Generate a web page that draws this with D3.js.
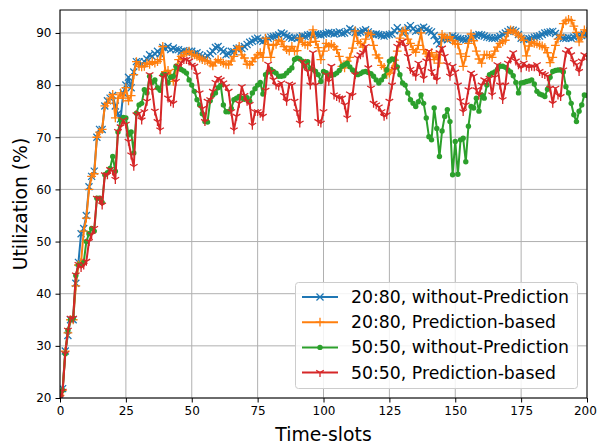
<!DOCTYPE html>
<html><head><meta charset="utf-8">
<script src="https://cdn.jsdelivr.net/npm/d3@7"></script>
<style>body{margin:0;background:#fff}svg{display:block;font-family:"DejaVu Sans",sans-serif}</style>
</head><body><svg id="c" width="597" height="447"></svg>
<script>
const xTicks=[0,25,50,75,100,125,150,175,200];
const yTicks=[20,30,40,50,60,70,80,90];
const seriesNames=["20:80, without-Prediction","20:80, Prediction-based","50:50, without-Prediction","50:50, Prediction-based"];
const blue=[20.5,21.8,29,32,35,35,42,46,51.5,52.5,55,60.5,62.5,63.5,70,71.5,71.5,76,77,77.5,78,76,74.5,73.5,78.5,80,81.5,79.5,82.5,84.5,84.5,84,84.5,85,85.8,85.5,86,86.5,86,87.2,87,87.4,86.8,87.1,86.8,86.8,86.5,86.6,86.3,86.5,86.5,86,86.2,85.8,85.5,85.2,85.6,86,86.5,87.2,87.4,86.8,86.5,85.8,86,86.5,86.4,87,87.1,87,87.4,87.8,88.2,88.4,88.8,89,88.6,88.4,88.6,89,89.2,89.3,89.4,89.6,90,89.8,89.4,89.2,89,89.1,89,89.2,89.4,89.3,89.6,89.7,89.5,89.8,89.7,89.6,89.8,89.9,90.1,90,89.8,90,90.2,89.9,90,90.3,90.8,90.5,90.1,90,90.2,90.4,90.6,90.2,89.8,89.7,89.8,89.7,89.5,89.4,89.6,89.7,89.8,90.4,91,90.5,90,90.4,91,91.4,90.8,90.3,90.5,90.9,91.1,90.7,90.4,90.2,89.5,88.5,87.9,88.8,89,88.7,89,89.4,89.2,89,88.9,88.8,88.7,88.9,89,89.3,89.5,89.7,89.6,89.4,89.2,89.1,89,89,89.1,89.3,89.7,90,90.3,90.6,90.5,90.3,89.7,89,88.8,88.7,88.9,89,89.2,89.3,89.4,89.7,90,90.1,90.2,90.3,89.9,89.4,89.2,89,89,89.1,89,89.2,89.4,89.4,89.5,89.7,89.6];
const orange=[20.5,21.5,29,32.5,35,35,41.5,45.5,46,52,54.5,60,62.5,63,70,71,71.5,76,76.5,77.5,78.2,73.7,77.5,78.5,77.5,79.5,77,78,82,84.5,83.6,83.5,83.6,84.2,84,84.5,84.2,84.5,84.9,87.4,82.6,82.8,82,80.7,83,84.9,85.5,85.8,86.3,86.5,85.9,85.8,85.5,85.2,84.9,84.7,84.6,84.2,83.7,84.4,84.9,84.5,84.2,84,83.9,84.6,85.5,86.8,87.4,85.8,85.2,84,83.9,84.5,85.2,85.8,86.2,85.3,89,87.8,85.3,87.6,87.8,88.6,88.4,87.4,86.8,86.5,87.4,86.5,86.6,89,88.2,87.8,87.6,88.2,90.6,88.4,87.2,84.9,86.5,88,87.4,87.8,87.4,86.8,85.5,83.6,83.3,84.6,85.3,87.1,90.4,88.4,88,87.3,88.8,90,89.7,87.6,85.8,85.2,83.8,83.4,82,82.3,83,84.8,86.5,89,90.3,90.5,88.8,88,86.8,86.3,87.6,90,86.8,86,85.5,86.2,84.9,85.8,84.2,89.7,89.2,89,89.3,88.5,88,87.8,86,83.6,85.5,88,89.8,88.5,86.5,85,84.2,85.8,85.8,85.7,85.3,86.5,87.3,88,88.3,88.6,90,90.6,90.4,90,89.6,89.2,88.6,85.6,87.5,88.3,88,87.9,87.6,87.5,87.2,86.2,84.3,85.3,87.6,88.8,89.6,91.8,92.3,92.6,92.4,91.3,90.1,88.3,89.2,90.6,90.3];
const green=[20.5,21.5,28.5,33,35,35.3,43.5,45.5,45.5,46,50,51.5,52.5,52,58.3,58.3,57.5,62.8,63.2,64,66.3,63.5,71,73.3,73.8,73.7,70.5,71,67,74.6,76.2,76.5,79.1,78.5,81.7,80.5,81,79.5,79,82,82,80.4,81.5,81.7,83.6,83.3,83,82.7,82.3,81,80,78.8,77.2,76.2,74.5,73,72.9,77,78.1,78.5,79.5,80,76.2,74.9,74.9,75.5,77.2,77.5,77.8,77.5,77.3,77.6,76.9,78.5,79.3,80,80.5,78.3,82,82.5,83,82.6,82.3,81.7,81.7,81.8,82.3,82.8,83.3,84.9,85.2,85,84.6,83.6,84.5,83.2,83,82.6,82,80.7,82.6,82.4,81.8,81.9,82,82.3,82.8,83.6,83.9,84.2,83.5,82.9,82.4,82,82.2,82.5,82.6,82.4,82.2,81.7,81,80.4,81,81.7,82.9,84.6,85,84.9,83.5,82,80.4,80,78.5,77.2,76.5,75.9,76.8,78.1,76.5,73.7,70.1,69.5,75.6,71.7,66.3,71.2,74,75.3,73,62.8,69.2,62.9,69.5,69.8,65.3,72.1,75.9,75.6,77.5,75,78.1,77.5,80,82,82.3,82.5,83,83.6,83.6,83.4,82.9,82.5,81.8,80.5,78.5,80.4,80.5,80.7,80.8,81,80.2,78.8,78.3,78.1,77.8,79.2,81.5,82.6,82.8,82.9,82.9,82.5,79.7,78.5,76.5,74.3,73,75,76.2,78.1,78];
const red=[20,21.3,28.5,33,35.3,35.3,43.6,45.6,45,45.5,46.2,50,51.3,52.5,58.3,58.3,57,62.8,62.8,63.8,63.5,61.9,71.1,72,73.3,72.5,69.2,66.6,64.4,74.3,74.6,73.3,74.9,76.9,82,79,75,73,71.4,81.5,82,77.5,76.8,76.5,80.7,83.6,84.3,84.9,84.9,84.6,83.8,83.6,82,78.5,75.5,73,76.9,77.2,78.8,80.5,81.3,81,80.4,79.7,78.8,74.9,71.4,74,76.5,79.7,78,76.9,76.3,72.3,74.9,74.9,74.6,74,79,84,82.5,81,80,79.8,80.4,78,76.9,80.2,80,76.9,74.9,72.7,84.5,83.8,82.6,80,86.2,80,73,72.7,74.9,82,80.7,83.6,78.1,77.8,77.5,77.5,76.2,73.7,78.3,78,82,85.2,85.8,86.2,87.4,83.3,79.4,76.5,76.2,75.8,74.9,74,74.3,76.9,80,83,87.4,88,88.4,87.4,85.5,83,82.5,81.7,84.2,83,81.3,84.6,86.5,82.6,81.8,81,86.2,87.1,85.5,83.9,81.7,83.6,82.5,80,77,74.9,76.2,79.1,82.3,81.7,79.1,78.1,80,81,80.7,81.3,78.1,81.5,83.9,80,77.2,80,84.2,85,86.2,84.6,83.9,83.3,84.2,83.6,83.4,83.6,83.5,83.9,82.6,82.2,82,81.7,79.4,76.5,79.4,78.1,77.8,82.9,86.2,86.8,85.8,84.4,83.9,82.6,84.6,85.8,85.5];

const colors=["#1f77b4","#ff7f0e","#2ca02c","#d62728"];
const markers=["x","+","dot","tri"];
const allSeries=[blue,orange,green,red];

const svg=d3.select("#c");
const L=60,R=587,T=10,B=398;
const x=d3.scaleLinear().domain([0,200]).range([L,R]);
const y=d3.scaleLinear().domain([20,94.4]).range([B,T]);

const g=svg.append("g");
g.selectAll(".gx").data(xTicks).enter().append("line")
 .attr("x1",d=>x(d)).attr("x2",d=>x(d)).attr("y1",T).attr("y2",B)
 .attr("stroke","#b0b0b0").attr("stroke-width",1);
g.selectAll(".gy").data(yTicks).enter().append("line")
 .attr("x1",L).attr("x2",R).attr("y1",d=>y(d)).attr("y2",d=>y(d))
 .attr("stroke","#b0b0b0").attr("stroke-width",1);

svg.append("clipPath").attr("id","clip").append("rect").attr("x",L).attr("y",T).attr("width",R-L).attr("height",B-T);

function markerPath(type,s){
  if(type==="x"){const a=s*0.8;return `M${-a},${-a}L${a},${a}M${-a},${a}L${a},${-a}`;}
  if(type==="+"){const a=s;return `M${-a},0L${a},0M0,${-a}L0,${a}`;}
  if(type==="tri"){const a=s;return `M0,0L0,${a}M0,0L${-a*0.866},${-a*0.5}M0,0L${a*0.866},${-a*0.5}`;}
  return null;
}

const plot=svg.append("g").attr("clip-path","url(#clip)");
const line=d3.line().x((d,i)=>x(i)).y(d=>y(d));
allSeries.forEach((arr,k)=>{
  const gg=plot.append("g");
  gg.append("path").attr("d",line(arr)).attr("fill","none").attr("stroke",colors[k]).attr("stroke-width",2).attr("stroke-linejoin","round");
  if(markers[k]==="dot"){
    gg.selectAll("circle").data(arr).enter().append("circle")
      .attr("cx",(d,i)=>x(i)).attr("cy",d=>y(d)).attr("r",2.7).attr("fill",colors[k]);
  } else {
    const p=markerPath(markers[k],4.4);
    gg.selectAll("path.m").data(arr).enter().append("path").attr("class","m")
      .attr("transform",(d,i)=>`translate(${x(i)},${y(d)})`).attr("d",p)
      .attr("stroke",colors[k]).attr("stroke-width",1.3).attr("fill","none");
  }
});

const xa=svg.append("g").attr("transform",`translate(0,${B})`).call(d3.axisBottom(x).tickValues(xTicks).tickSize(4.5).tickPadding(4));
const ya=svg.append("g").attr("transform",`translate(${L},0)`).call(d3.axisLeft(y).tickValues(yTicks).tickSize(4.5).tickPadding(4));
[xa,ya].forEach(a=>{a.select(".domain").remove();a.selectAll("text").attr("font-size","12px").attr("fill","#000").attr("font-family","DejaVu Sans");a.selectAll("line").attr("stroke","#000").attr("stroke-width",1);});
xa.selectAll(".tick text").filter(d=>d===200).attr("text-anchor","end").attr("dx","9.3");
svg.append("rect").attr("x",L).attr("y",T).attr("width",R-L).attr("height",B-T).attr("fill","none").attr("stroke","#000").attr("stroke-width",1);

svg.append("text").attr("x",(L+R)/2).attr("y",440.5).attr("text-anchor","middle").attr("font-size","18.8px").text("Time-slots");
svg.append("text").attr("transform",`translate(27,${(T+B)/2}) rotate(-90)`).attr("text-anchor","middle").attr("font-size","18.8px").text("Utilization (%)");

const lg=svg.append("g");
lg.append("rect").attr("x",295.5).attr("y",282.5).attr("width",282).attr("height",106).attr("rx",3)
  .attr("fill","#fff").attr("fill-opacity",0.85).attr("stroke","#cccccc").attr("stroke-width",1);
seriesNames.forEach((nm,k)=>{
  const cy=297+k*25.2;
  lg.append("line").attr("x1",302).attr("x2",338).attr("y1",cy).attr("y2",cy).attr("stroke",colors[k]).attr("stroke-width",2);
  if(markers[k]==="dot"){lg.append("circle").attr("cx",320).attr("cy",cy).attr("r",2.7).attr("fill",colors[k]);}
  else lg.append("path").attr("transform",`translate(320,${cy})`).attr("d",markerPath(markers[k],4.4)).attr("stroke",colors[k]).attr("stroke-width",1.3).attr("fill","none");
  lg.append("text").attr("x",351).attr("y",cy+6).attr("font-size","17.3px").text(nm);
});
</script></body></html>
